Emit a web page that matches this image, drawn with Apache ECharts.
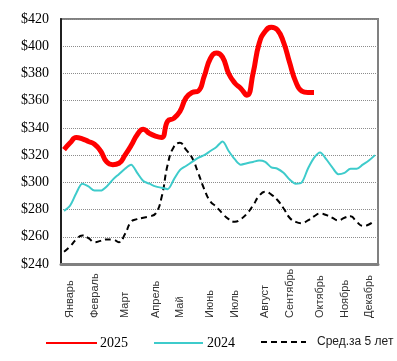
<!DOCTYPE html>
<html>
<head>
<meta charset="utf-8">
<script src="https://cdn.jsdelivr.net/npm/echarts@6/dist/echarts.min.js"></script>
<style>html,body{margin:0;padding:0;background:#fff;}#c{width:397px;height:361px;}</style>
</head>
<body>
<div id="c"></div>
<script>
// Weekly categories; month names at the week where the label sits
const monthNames = ['Январь','Февраль','Март','Апрель','Май','Июнь','Июль','Август','Сентябрь','Октябрь','Ноябрь','Декабрь'];
const monthWeekIndex = [1,5,10,15,19,24,28,33,37,42,46,50];
const weekCount = 52;
const yTicks = [240,260,280,300,320,340,360,380,400,420];

const s2025 = [324,329,333,332,330,328,323,315,313,314,320,327,335,339,336,334,333,345,347,352,362,366,367,378,391,395,392,380,373,369,364,380,402,411,414,412,403,388,374,367,366,366];
const s2024 = [279,283,292,299,297,294,294,297,302,306,310,313,307,301,299,297,296,295,302,309,312,315,318,320,323,326,330,323,317,313,314,315,316,315,311,310,307,302,299,300,310,318,322,317,311,306,307,310,310,313,316,320];
const sAvg5 = [249,253,258,261,259,256,257,258,258,256,262,271,273,274,275,277,289,313,326,329,324,318,307,295,286,282,277,273,271,273,277,283,290,293,291,287,281,274,271,270,272,275,277,276,274,272,274,275,271,268,269,272];

const categories = [];
for (let i = 0; i < weekCount; i++) {
  const k = monthWeekIndex.indexOf(i);
  categories.push(k >= 0 ? monthNames[k] : '');
}

const hiddenSymbol = {color: 'transparent', borderWidth: 0, opacity: 0};

const chart = echarts.init(document.getElementById('c'), null, {renderer: 'canvas'});
chart.setOption({
  animation: false,
  backgroundColor: '#ffffff',
  grid: {left: 61, right: 19, top: 19, bottom: 97, show: true, borderColor: '#808080', borderWidth: 2, backgroundColor: 'transparent'},
  xAxis: {
    type: 'category',
    data: categories,
    boundaryGap: true,
    axisLine: {lineStyle: {color: '#808080', width: 3}},
    axisTick: {show: false},
    axisLabel: {
      interval: function (idx) { return monthWeekIndex.indexOf(idx) >= 0; },
      rotate: 90,
      align: 'left',
      verticalAlign: 'middle',
      margin: 54,
      fontFamily: 'Liberation Sans Narrow, Liberation Sans',
      fontSize: 11,
      color: '#333333'
    },
    splitLine: {show: false}
  },
  yAxis: {
    type: 'value',
    min: yTicks[0],
    max: yTicks[yTicks.length - 1],
    interval: 20,
    axisLine: {show: true, lineStyle: {color: '#202020', width: 2}},
    axisTick: {show: false},
    axisLabel: {
      margin: 12,
      fontFamily: 'Liberation Serif',
      fontSize: 14,
      color: '#000',
      formatter: function (v) { return '$' + v; }
    },
    splitLine: {lineStyle: {color: '#8c8c8c', type: 'dotted', width: 1}}
  },
  legend: [
    {data: ['2025'], left: 45, top: 336, padding: 0, itemWidth: 51, itemHeight: 14, itemStyle: hiddenSymbol, textStyle: {fontFamily: 'Liberation Serif', fontSize: 14, color: '#000', padding: [0,0,0,-2]}},
    {data: ['2024'], left: 153, top: 336, padding: 0, itemWidth: 49, itemHeight: 14, itemStyle: hiddenSymbol, textStyle: {fontFamily: 'Liberation Serif', fontSize: 14, color: '#000', padding: [0,0,0,-1]}},
    {data: ['Сред.за 5 лет'], left: 260, top: 336, padding: 0, itemWidth: 45, itemHeight: 14, itemStyle: hiddenSymbol, textStyle: {fontFamily: 'Liberation Sans', fontSize: 12, color: '#202020', padding: [0,0,0,6]}}
  ],
  series: [
    {name: 'Сред.за 5 лет', type: 'line', data: sAvg5, smooth: 0.5, symbol: 'none', z: 2,
      lineStyle: {color: '#000', width: 2, type: [6,4]}, itemStyle: {color: '#000'}},
    {name: '2024', type: 'line', data: s2024, smooth: 0.3, symbol: 'none', z: 3,
      lineStyle: {color: '#3ECBCB', width: 2}, itemStyle: {color: '#3ECBCB'}},
    {name: '2025', type: 'line', data: s2025, smooth: 0.5, symbol: 'none', z: 4,
      lineStyle: {color: '#FF0000', width: 5}, itemStyle: {color: '#FF0000'}}
  ]
});
</script>
</body>
</html>
